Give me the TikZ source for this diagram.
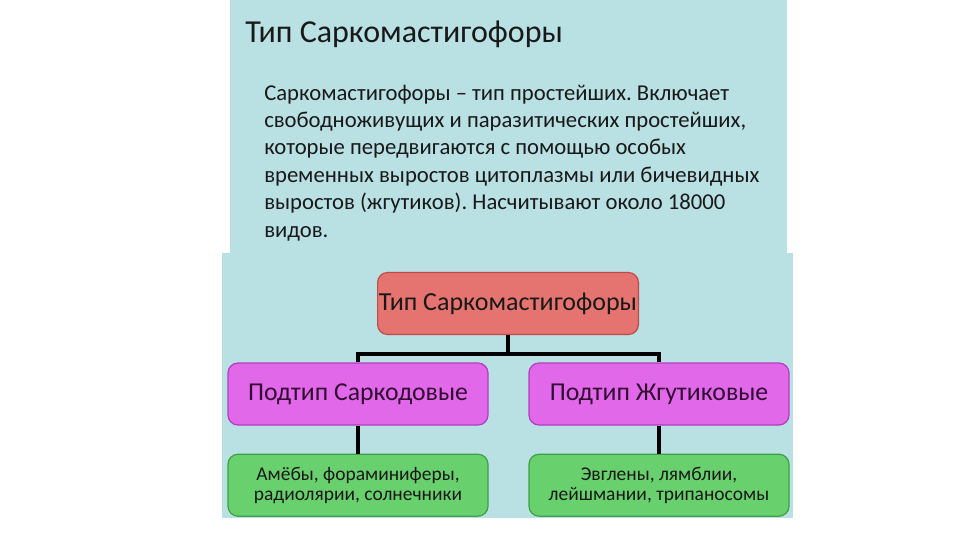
\documentclass[tikz,border=0pt]{standalone}
\usepackage{fontspec}
\setmainfont{Carlito}
\usetikzlibrary{positioning}
\frenchspacing

\definecolor{panelblue}{RGB}{185,224,227}
\definecolor{rootred}{RGB}{229,115,112}
\definecolor{rootredline}{RGB}{190,75,72}
\definecolor{submag}{RGB}{225,104,233}
\definecolor{submagline}{RGB}{180,60,190}
\definecolor{subink}{RGB}{50,10,50}
\definecolor{leafgreen}{RGB}{104,208,108}
\definecolor{leafgreenline}{RGB}{60,160,70}
\definecolor{textink}{RGB}{25,25,25}

\begin{document}
\begin{tikzpicture}[
        x=0.75pt, y=-0.75pt,
        node distance=21pt,
        box/.style={draw, rounded corners=7.5pt, line width=0.9pt, minimum width=195pt, minimum height=46.5pt, inner sep=1pt, align=center, text=textink},
        rootbox/.style={box, fill=rootred, draw=rootredline, font=\fontsize{19.5}{23}\selectfont},
        subbox/.style={box, fill=submag, draw=submagline, text=subink, font=\fontsize{19.3}{23}\selectfont},
        leafbox/.style={box, fill=leafgreen, draw=leafgreenline, font=\fontsize{14.6}{15}\selectfont},
        link/.style={line width=2.8pt, black}
    ]
        \useasboundingbox (0,0) rectangle (960,540);
        \fill[white] (0,0) rectangle (960,540);

        % Panels
        \fill[panelblue] (230,0) rectangle (787,253);
        \fill[panelblue] (222,253) rectangle (793,518);

        % Heading and description
        \node[anchor=base west, inner sep=0, text=textink, font=\fontsize{24}{28}\selectfont] (title) at (245,42) {Тип Саркомастигофоры};
        \node[anchor=base west, inner sep=0, align=left, text=textink, font=\fontsize{17}{20.55}\selectfont] (descr) at (264,237)
            {Саркомастигофоры – тип простейших. Включает\\
             свободноживущих и паразитических простейших,\\
             которые передвигаются с помощью особых\\
             временных выростов цитоплазмы или бичевидных\\
             выростов (жгутиков). Насчитывают около 18000\\
             видов.};

        % Tree
        \node[rootbox] (root) at (508,303.5) {Тип Саркомастигофоры};
        \node[subbox] (sarc) at (358,394) {Подтип Саркодовые};
        \node[subbox] (flag) at (659,394) {Подтип Жгутиковые};
        \node[leafbox, below=of sarc] (sarcEx) {Амёбы, фораминиферы,\\радиолярии, солнечники};
        \node[leafbox, below=of flag] (flagEx) {Эвглены, лямблии,\\лейшмании, трипаносомы};

        % Connectors
        \coordinate (fork) at (508,354);
        \draw[link] (root.south) -- (fork);
        \draw[link] (sarc.north) |- (fork) -| (flag.north);
        \draw[link] (sarc.south) -- (sarcEx.north);
        \draw[link] (flag.south) -- (flagEx.north);
    \end{tikzpicture}
\end{document}
